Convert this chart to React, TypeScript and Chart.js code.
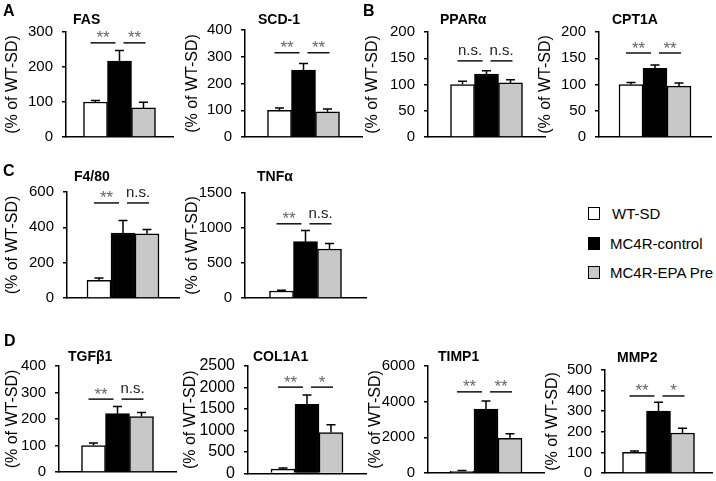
import React, { useEffect, useRef } from 'react';
import { Chart, registerables } from 'chart.js';

Chart.register(...registerables);

const FONT = '"Liberation Sans", Arial, Helvetica, sans-serif';

// ---------- data ----------
const groups = ['WT-SD', 'MC4R-control', 'MC4R-EPA Pre'];
const groupColors = ['#ffffff', '#000000', '#c8c8c8'];

const genes = ['FAS', 'SCD-1', 'PPARα', 'CPT1A', 'F4/80', 'TNFα', 'TGFβ1', 'COL1A1', 'TIMP1', 'MMP2'];
const meanWT = [100, 100, 100, 100, 100, 100, 100, 100, 100, 100];
const meanMC4R = [217, 250, 120, 131, 368, 805, 220, 1610, 3580, 300];
const meanEPA = [83, 94, 103, 97, 363, 700, 209, 950, 1950, 194];
const semWT = [4, 8, 6, 4, 13, 10, 9, 25, 40, 7];
const semMC4R = [30, 25, 6, 6, 70, 158, 27, 215, 460, 43];
const semEPA = [16, 11, 6, 6, 25, 80, 16, 180, 250, 23];
const yMax = [300, 400, 200, 200, 600, 1500, 400, 2500, 6000, 500];
const yStep = [100, 100, 50, 50, 200, 500, 100, 500, 2000, 100];
const sigLeft = ['**', '**', 'n.s.', '**', '**', '**', '**', '**', '**', '**'];
const sigRight = ['**', '**', 'n.s.', '**', 'n.s.', 'n.s.', 'n.s.', '*', '**', '*'];
const sigLevel = [269, 315, 145, 160, 538, 1060, 275, 2008, 4550, 374];
const yAxisTitle = '(% of WT-SD)';
const panelLetters = ['A', 'B', 'C', 'D'];

// ---------- layout (page pixels) ----------
const layout = [
  { ytx: 12, ax: 66, top: 32, bottom: 137, right: 173, tx: 73, ty: 20, tick: 15 },
  { ytx: 192, ax: 245, top: 30, bottom: 137, right: 362, tx: 258, ty: 20, tick: 15 },
  { ytx: 372, ax: 428, top: 32, bottom: 137, right: 545, tx: 440, ty: 20, tick: 15 },
  { ytx: 545, ax: 599, top: 32, bottom: 137, right: 711, tx: 612, ty: 20, tick: 15 },
  { ytx: 12, ax: 67, top: 192, bottom: 298, right: 179, tx: 74, ty: 177, tick: 15 },
  { ytx: 192, ax: 245, top: 193, bottom: 298, right: 366, tx: 257, ty: 177, tick: 15 },
  { ytx: 12, ax: 59, top: 366, bottom: 472, right: 176, tx: 68, ty: 357, tick: 15 },
  { ytx: 190, ax: 248, top: 366, bottom: 473, right: 366, tx: 253, ty: 357, tick: 16 },
  { ytx: 375, ax: 428, top: 366, bottom: 473, right: 544, tx: 438, ty: 357, tick: 15 },
  { ytx: 552, ax: 605, top: 370, bottom: 473, right: 712, tx: 617, ty: 358, tick: 15 },
];
const letterPos = [
  { left: 3, top: 3 },
  { left: 363, top: 3 },
  { left: 3, top: 163 },
  { left: 4, top: 333 },
];
const legendRows = [206, 236, 265];

const decoPlugin = {
  id: 'panelDeco',
  afterDatasetsDraw(chart: any, _args: any, opts: any) {
    const ctx = chart.ctx;
    const y = chart.scales.y;
    const centers: number[] = [];
    ctx.save();
    chart.data.datasets.forEach((ds: any, k: number) => {
      const bar = chart.getDatasetMeta(k).data[0];
      const v = ds.data[0];
      const e = opts.errors[k];
      const yTop = y.getPixelForValue(v);
      const yErr = y.getPixelForValue(v + e);
      ctx.strokeStyle = '#000';
      ctx.lineWidth = 1.5;
      ctx.beginPath();
      ctx.moveTo(bar.x, yTop);
      ctx.lineTo(bar.x, yErr);
      ctx.moveTo(bar.x - 4.5, yErr);
      ctx.lineTo(bar.x + 4.5, yErr);
      ctx.stroke();
      centers.push(bar.x);
    });
    const ly = y.getPixelForValue(opts.sigLevel);
    const segs = [
      [centers[0] - 5, centers[1] - 4],
      [centers[1] + 4, centers[2] + 2],
    ];
    segs.forEach(([a, b], j) => {
      ctx.strokeStyle = '#111';
      ctx.lineWidth = 1.5;
      ctx.beginPath();
      ctx.moveTo(a, ly);
      ctx.lineTo(b, ly);
      ctx.stroke();
      const label = opts.sig[j];
      ctx.textAlign = 'center';
      ctx.textBaseline = 'alphabetic';
      if (label.startsWith('*')) {
        ctx.font = `17px ${FONT}`;
        ctx.fillStyle = '#666';
        ctx.fillText(label, (a + b) / 2, ly + 0.5);
      } else {
        ctx.font = `15px ${FONT}`;
        ctx.fillStyle = '#222';
        ctx.fillText(label, (a + b) / 2, ly - 6);
      }
    });
    ctx.font = `bold 14px ${FONT}`;
    ctx.fillStyle = '#000';
    ctx.textAlign = 'left';
    ctx.textBaseline = 'middle';
    ctx.fillText(opts.title, chart.chartArea.left + opts.titleDx, opts.titleY);
    ctx.restore();
  },
};

const PAD_TOP = 28;
const PAD_BOTTOM = 10;
const PAD_RIGHT = 6;

function makeConfig(i: number, canvasTop: number, yWidth: number): any {
  const lay = layout[i];
  const means = [meanWT, meanMC4R, meanEPA];
  const sems = [semWT, semMC4R, semEPA];
  return {
    type: 'bar',
    data: {
      labels: [genes[i]],
      datasets: groups.map((g, k) => ({
        label: g,
        data: [means[k][i]],
        backgroundColor: groupColors[k],
        borderColor: '#000',
        borderWidth: 1.5,
        borderSkipped: 'start',
        barThickness: 24,
      })),
    },
    options: {
      responsive: false,
      animation: false,
      events: [],
      layout: { padding: { top: PAD_TOP, right: PAD_RIGHT, bottom: PAD_BOTTOM, left: 0 } },
      plugins: {
        legend: { display: false },
        tooltip: { enabled: false },
        title: { display: false },
        panelDeco: {
          errors: sems.map((s) => s[i]),
          sig: [sigLeft[i], sigRight[i]],
          sigLevel: sigLevel[i],
          title: genes[i],
          titleDx: lay.tx - lay.ax,
          titleY: lay.ty - canvasTop,
        },
      },
      scales: {
        x: {
          type: 'category',
          offset: true,
          ticks: { display: false },
          grid: { display: false, drawTicks: false },
          border: { display: true, color: '#000', width: 1.5 },
        },
        y: {
          min: 0,
          max: yMax[i],
          ticks: {
            stepSize: yStep[i],
            color: '#000',
            padding: 9,
            font: { family: FONT, size: lay.tick },
            callback: (v: any) => String(v),
          },
          grid: {
            display: true,
            drawOnChartArea: false,
            drawTicks: true,
            tickLength: 4,
            color: '#000',
            lineWidth: 1.5,
          },
          border: { display: true, color: '#000', width: 1.5 },
          title: {
            display: true,
            text: yAxisTitle,
            color: '#000',
            font: { family: FONT, size: 16 },
            padding: { top: 3, bottom: 0 },
          },
          afterFit: (s: any) => {
            s.width = yWidth;
          },
        },
      },
    },
    plugins: [decoPlugin],
  };
}

export default function App() {
  const refs = useRef<(HTMLCanvasElement | null)[]>([]);

  useEffect(() => {
    const charts: Chart[] = [];
    genes.forEach((gene, i) => {
      const canvas = refs.current[i];
      if (!canvas) return;
      const lay = layout[i];
      const L = lay.ytx - 12;
      const canvasTop = lay.top - PAD_TOP;
      const yWidth = lay.ax - L;
      let chart = new Chart(canvas, makeConfig(i, canvasTop, yWidth));
      // adjust canvas height so the plot bottom lands where wanted
      const wantBottom = lay.bottom - canvasTop;
      const diff = Math.round(wantBottom - chart.chartArea.bottom);
      if (diff !== 0) {
        chart.destroy();
        const h = canvas.height + diff;
        canvas.height = h;
        canvas.style.height = h + 'px';
        chart = new Chart(canvas, makeConfig(i, canvasTop, yWidth));
      }
      charts.push(chart);
    });
    return () => charts.forEach((c) => c.destroy());
  }, []);

  return (
    <div
      style={{
        position: 'absolute',
        left: 0,
        top: 0,
        width: 716,
        height: 481,
        overflow: 'hidden',
        background: '#fff',
        fontFamily: FONT,
      }}
    >
      {genes.map((g, i) => {
        const lay = layout[i];
        const L = lay.ytx - 12;
        const canvasTop = lay.top - PAD_TOP;
        const w = lay.right - L + PAD_RIGHT;
        const h = lay.bottom - canvasTop + PAD_BOTTOM;
        return (
          <canvas
            key={g}
            ref={(el) => {
              refs.current[i] = el;
            }}
            width={w}
            height={h}
            style={{ position: 'absolute', left: L, top: canvasTop, width: w, height: h }}
          />
        );
      })}
      {panelLetters.map((p, i) => (
        <div
          key={p}
          style={{
            position: 'absolute',
            left: letterPos[i].left,
            top: letterPos[i].top,
            fontWeight: 'bold',
            fontSize: 16,
            lineHeight: '16px',
            color: '#000',
          }}
        >
          {p}
        </div>
      ))}
      {groups.map((g, k) => (
        <div
          key={g}
          style={{
            position: 'absolute',
            left: 588,
            top: legendRows[k],
            height: 14,
            display: 'flex',
            alignItems: 'center',
            fontSize: 15,
            color: '#000',
            whiteSpace: 'nowrap',
          }}
        >
          <span
            style={{
              display: 'inline-block',
              width: 10,
              height: 11,
              border: '1.5px solid #000',
              background: groupColors[k],
              marginRight: k === 0 ? 12 : 10,
            }}
          />
          <span>{g}</span>
        </div>
      ))}
    </div>
  );
}
